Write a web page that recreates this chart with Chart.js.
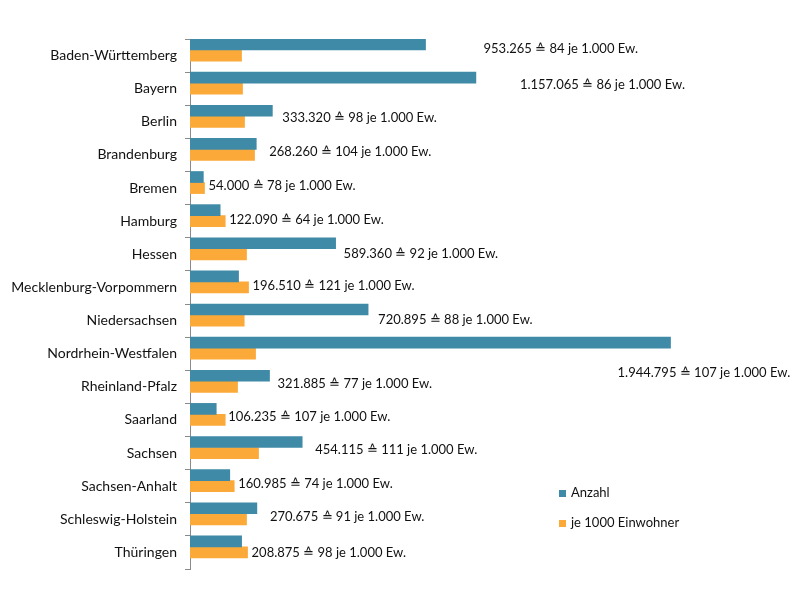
<!DOCTYPE html>
<html>
<head>
<meta charset="utf-8">
<script src="https://cdn.jsdelivr.net/npm/chart.js@4"></script>
<style>
  html, body { margin: 0; padding: 0; background: #fff; }
  #wrap { width: 800px; height: 600px; }
</style>
</head>
<body>
<div id="wrap"><canvas id="barchart" width="800" height="600"></canvas></div>
<script>
var laender = ["Baden-Württemberg", "Bayern", "Berlin", "Brandenburg", "Bremen", "Hamburg", "Hessen",
  "Mecklenburg-Vorpommern", "Niedersachsen", "Nordrhein-Westfalen", "Rheinland-Pfalz", "Saarland",
  "Sachsen", "Sachsen-Anhalt", "Schleswig-Holstein", "Thüringen"];
var anzahl = [953265, 1157065, 333320, 268260, 54000, 122090, 589360, 196510, 720895, 1944795, 321885, 106235, 454115, 160985, 270675, 208875];
var je1000 = [84, 86, 98, 104, 78, 64, 92, 121, 88, 107, 77, 107, 111, 74, 91, 98];
// orange bar lengths as drawn in the picture (same scale as Anzahl)
var je1000Balken = [208600, 212600, 220700, 261200, 58700, 142600, 228800, 236900, 219500, 265300, 192400, 142600, 277400, 179000, 228800, 232900];

var teal = '#3F8AA6';
var orange = '#FBA939';
var schrift = 'Lato, "Liberation Sans", sans-serif';

// manual nudges of the data labels (dx from the longer bar end, dy from category centre)
var labelDx = [58, 44, 10, 13, 4, 4, 8, 4, 10, -53, 8, 3, 13, 4, 13, 4];
var labelDy = [-7, -4, -4, -3, -2, -1, -1, -2, -1, 19, -3, -3, -3, -2, -3, 0];

function fmt(n) {
  return n.toString().replace(/\B(?=(\d{3})+(?!\d))/g, '.');
}

var labelPlugin = {
  id: 'labels',
  afterDatasetsDraw: function(chart) {
    var ctx = chart.ctx;
    var m0 = chart.getDatasetMeta(0), m1 = chart.getDatasetMeta(1);
    var yScale = chart.scales.y;
    ctx.save();
    ctx.font = '13px ' + schrift;
    ctx.fillStyle = '#111';
    ctx.textAlign = 'left';
    ctx.textBaseline = 'middle';
    for (var i = 0; i < laender.length; i++) {
      var ende = Math.max(m0.data[i].x, m1.data[i].x);
      var text = fmt(anzahl[i]) + ' \u2259 ' + je1000[i] + ' je 1.000 Ew.';
      ctx.fillText(text, ende + labelDx[i], yScale.getPixelForValue(i) + labelDy[i]);
    }
    // legend (only the two real series)
    var items = chart.data.datasets;
    for (var j = 0; j < 2; j++) {
      var y = 493 + j * 30;
      ctx.fillStyle = items[j].backgroundColor;
      ctx.fillRect(559, y - 3, 7, 7);
      ctx.fillStyle = '#111';
      ctx.fillText(items[j].label, 571, y);
    }
    ctx.restore();
  }
};

function barchart() {
  var ctx = document.getElementById('barchart').getContext('2d');
  var chart = new Chart(ctx, {
    type: 'bar',
    data: {
      labels: laender,
      datasets: [{
        label: 'Anzahl',
        backgroundColor: teal,
        data: anzahl
      }, {
        label: 'je 1000 Einwohner',
        backgroundColor: orange,
        data: je1000Balken
      }, {
        // empty slot so the bars sit at the top of each category like in Excel
        label: '',
        backgroundColor: 'rgba(0,0,0,0)',
        data: laender.map(function() { return null; })
      }]
    },
    options: {
      indexAxis: 'y',
      responsive: false,
      animation: false,
      categoryPercentage: 1.0,
      barPercentage: 1.0,
      layout: { padding: { left: 0, right: 17, top: 39, bottom: 31 } },
      plugins: {
        legend: { display: false },
        tooltip: { enabled: false }
      },
      scales: {
        x: {
          display: false,
          min: 0,
          max: 2400000
        },
        y: {
          afterFit: function(s) { s.width = 190; },
          border: { color: '#8a8a8a', width: 1 },
          grid: { drawOnChartArea: false, tickLength: 5, color: '#8a8a8a', offset: true },
          ticks: { color: '#111', padding: 8, font: { family: schrift, size: 14 } }
        }
      }
    },
    plugins: [labelPlugin]
  });
}

barchart();
</script>
</body>
</html>
